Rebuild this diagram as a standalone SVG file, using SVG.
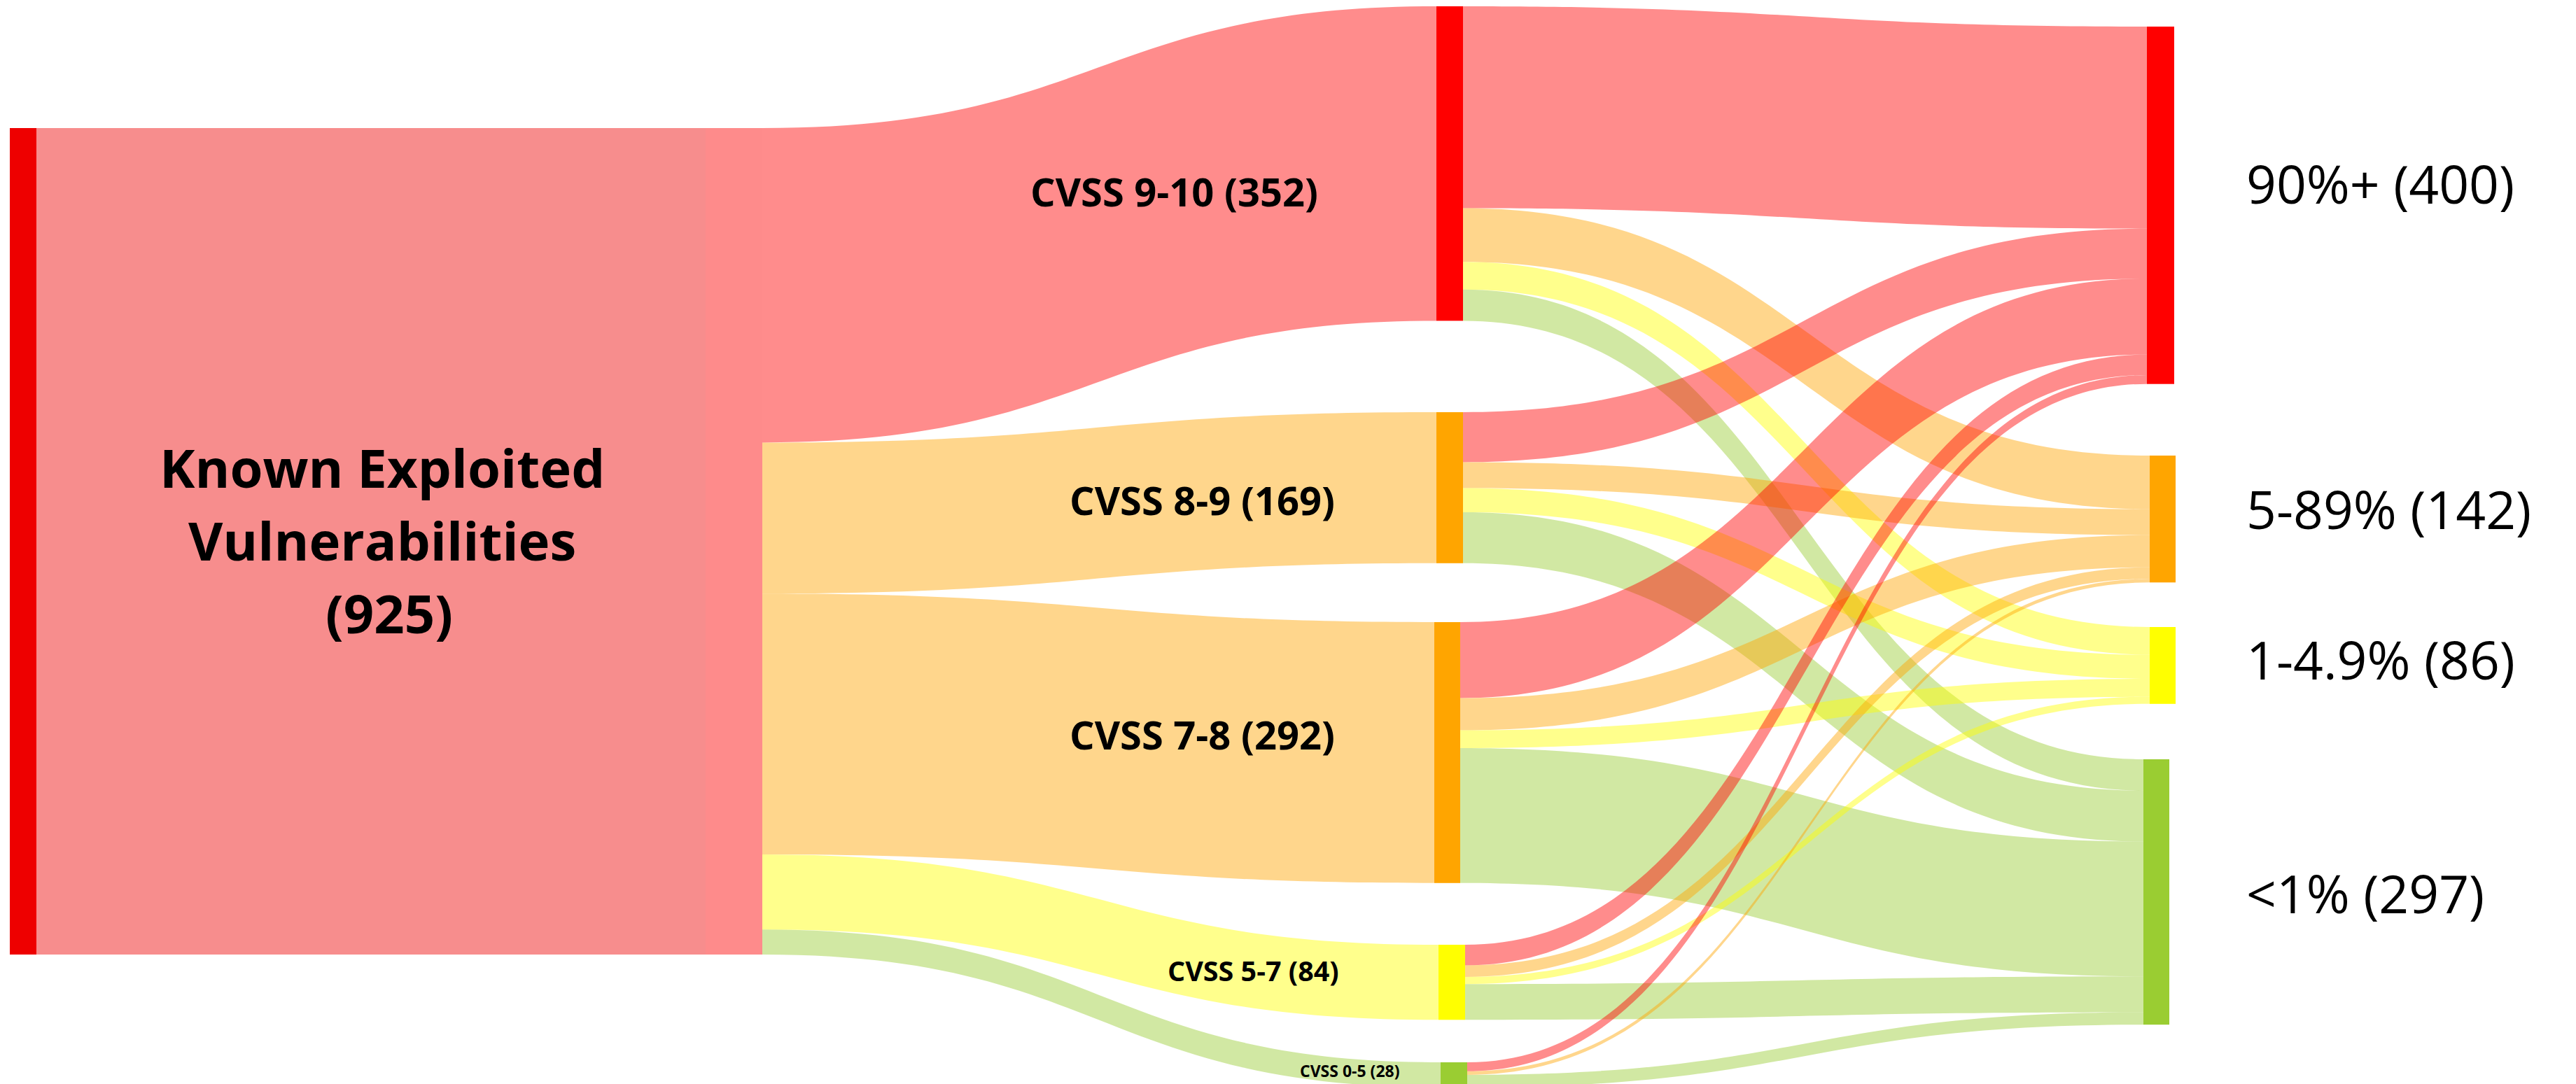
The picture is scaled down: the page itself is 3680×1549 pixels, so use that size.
<svg xmlns="http://www.w3.org/2000/svg" width="3680" height="1549" viewBox="0 0 3680 1549">
  <style>
    .lr { fill: #ff0000; fill-opacity: .45; }
    .lo { fill: #ffa500; fill-opacity: .45; }
    .ly { fill: #ffff00; fill-opacity: .45; }
    .lg { fill: #9acd32; fill-opacity: .45; }
    .nr { fill: #ff0000; }
    .no { fill: #ffa500; }
    .ny { fill: #ffff00; }
    .ng { fill: #9acd32; }
    .bold { font-family: "Open Sans", "Liberation Sans", sans-serif; font-weight: 700; fill: #000; }
    .out { font-family: "Open Sans", "Liberation Sans", sans-serif; font-weight: 400; font-size: 75px; fill: #000; }
  </style>
  <rect width="3680" height="1549" fill="#ffffff"/>

  <g id="connectors">
    <!-- source to CVSS bands -->
    <path class="lr" d="M1089 183C1570.5 183 1570.5 9 2052 9L2052 458.4C1570.5 458.4 1570.5 632.4 1089 632.4Z"/>
    <path class="lo" d="M1089 632.4C1570.5 632.4 1570.5 589 2052 589L2052 804.8C1570.5 804.8 1570.5 848.2 1089 848.2Z"/>
    <path class="lo" d="M1089 848.2C1569 848.2 1569 889 2049 889L2049 1261.8C1569 1261.8 1569 1221 1089 1221Z"/>
    <path class="ly" d="M1089 1221C1572 1221 1572 1350 2055 1350L2055 1457.3C1572 1457.3 1572 1328.3 1089 1328.3Z"/>
    <path class="lg" d="M1089 1328.3C1573.5 1328.3 1573.5 1518 2058 1518L2058 1553.8C1573.5 1553.8 1573.5 1364 1089 1364Z"/>

    <!-- CVSS 9-10 to EPSS bands -->
    <path class="lr" d="M2090 9C2578.5 9 2578.5 38 3067 38L3067 326.6C2578.5 326.6 2578.5 297.6 2090 297.6Z"/>
    <path class="lo" d="M2090 297.6C2580.5 297.6 2580.5 651 3071 651L3071 727.6C2580.5 727.6 2580.5 374.2 2090 374.2Z"/>
    <path class="ly" d="M2090 374.2C2580.5 374.2 2580.5 896 3071 896L3071 935.6C2580.5 935.6 2580.5 413.8 2090 413.8Z"/>
    <path class="lg" d="M2090 413.8C2576 413.8 2576 1085 3062 1085L3062 1129.7C2576 1129.7 2576 458.4 2090 458.4Z"/>

    <!-- CVSS 8-9 to EPSS bands -->
    <path class="lr" d="M2090 589C2578.5 589 2578.5 326.6 3067 326.6L3067 398.1C2578.5 398.1 2578.5 660.5 2090 660.5Z"/>
    <path class="lo" d="M2090 660.5C2580.5 660.5 2580.5 727.6 3071 727.6L3071 764.6C2580.5 764.6 2580.5 697.5 2090 697.5Z"/>
    <path class="ly" d="M2090 697.5C2580.5 697.5 2580.5 935.6 3071 935.6L3071 970C2580.5 970 2580.5 732 2090 732Z"/>
    <path class="lg" d="M2090 732C2576 732 2576 1129.7 3062 1129.7L3062 1202.5C2576 1202.5 2576 804.8 2090 804.8Z"/>

    <!-- CVSS 7-8 to EPSS bands -->
    <path class="lr" d="M2086 889C2576.5 889 2576.5 398.1 3067 398.1L3067 506.6C2576.5 506.6 2576.5 997.5 2086 997.5Z"/>
    <path class="lo" d="M2086 997.5C2578.5 997.5 2578.5 764.6 3071 764.6L3071 810.6C2578.5 810.6 2578.5 1043.5 2086 1043.5Z"/>
    <path class="ly" d="M2086 1043.5C2578.5 1043.5 2578.5 970 3071 970L3071 995.6C2578.5 995.6 2578.5 1069 2086 1069Z"/>
    <path class="lg" d="M2086 1069C2574 1069 2574 1202.5 3062 1202.5L3062 1395.3C2574 1395.3 2574 1261.8 2086 1261.8Z"/>

    <!-- CVSS 5-7 to EPSS bands -->
    <path class="lr" d="M2093 1350C2580 1350 2580 506.6 3067 506.6L3067 536C2580 536 2580 1379.4 2093 1379.4Z"/>
    <path class="lo" d="M2093 1379.4C2582 1379.4 2582 810.6 3071 810.6L3071 827.2C2582 827.2 2582 1396 2093 1396Z"/>
    <path class="ly" d="M2093 1396C2582 1396 2582 995.6 3071 995.6L3071 1005.8C2582 1005.8 2582 1406.2 2093 1406.2Z"/>
    <path class="lg" d="M2093 1406.2C2577.5 1406.2 2577.5 1395.3 3062 1395.3L3062 1446.4C2577.5 1446.4 2577.5 1457.3 2093 1457.3Z"/>

    <!-- CVSS 0-5 to EPSS bands -->
    <path class="lr" d="M2096 1518C2581.5 1518 2581.5 536 3067 536L3067 548.7C2581.5 548.7 2581.5 1530.8 2096 1530.8Z"/>
    <path class="lo" d="M2096 1530.8C2583.5 1530.8 2583.5 827.2 3071 827.2L3071 832.3C2583.5 832.3 2583.5 1535.9 2096 1535.9Z"/>
    <path class="lg" d="M2096 1535.9C2579 1535.9 2579 1446.4 3062 1446.4L3062 1464.2C2579 1464.2 2579 1553.8 2096 1553.8Z"/>
  </g>

  <g id="node-kev">
    <rect x="52" y="183" width="956" height="1181" fill="#f78d8d"/>
    <rect x="1008" y="183" width="81" height="1181" fill="#fe8b8b"/>
    <rect x="14" y="183" width="38" height="1181" fill="#ee0000"/>
    <text class="bold" font-size="76" text-anchor="middle">
      <tspan x="556" y="697">Known Exploited</tspan>
      <tspan x="556" y="801">Vulnerabilities</tspan>
      <tspan x="556" y="905">(925)</tspan>
    </text>
  </g>

  <g id="node-cvss-9-10">
    <rect class="nr" x="2052" y="9" width="38" height="449.4"/>
    <text class="bold" x="1472" y="295" font-size="56">CVSS 9-10 (352)</text>
  </g>
  <g id="node-cvss-8-9">
    <rect class="no" x="2052" y="589" width="38" height="215.8"/>
    <text class="bold" x="1528" y="736" font-size="56">CVSS 8-9 (169)</text>
  </g>
  <g id="node-cvss-7-8">
    <rect class="no" x="2049" y="889" width="37" height="372.8"/>
    <text class="bold" x="1528" y="1071" font-size="56">CVSS 7-8 (292)</text>
  </g>
  <g id="node-cvss-5-7">
    <rect class="ny" x="2055" y="1350" width="38" height="107.3"/>
    <text class="bold" x="1668" y="1402" font-size="39.5">CVSS 5-7 (84)</text>
  </g>
  <g id="node-cvss-0-5">
    <rect class="ng" x="2058" y="1518" width="38" height="35.8"/>
    <text class="bold" x="1857" y="1539" font-size="23">CVSS 0-5 (28)</text>
  </g>

  <g id="node-epss-90">
    <rect class="nr" x="3067" y="38" width="39" height="510.7"/>
    <text class="out" x="3209" y="291">90%+ (400)</text>
  </g>
  <g id="node-epss-5-89">
    <rect class="no" x="3071" y="651" width="37" height="181.3"/>
    <text class="out" x="3209" y="756">5-89% (142)</text>
  </g>
  <g id="node-epss-1-4.9">
    <rect class="ny" x="3071" y="896" width="37" height="109.8"/>
    <text class="out" x="3209" y="971">1-4.9% (86)</text>
  </g>
  <g id="node-epss-lt1">
    <rect class="ng" x="3062" y="1085" width="37" height="379.2"/>
    <text class="out" x="3209" y="1305">&lt;1% (297)</text>
  </g>
</svg>
